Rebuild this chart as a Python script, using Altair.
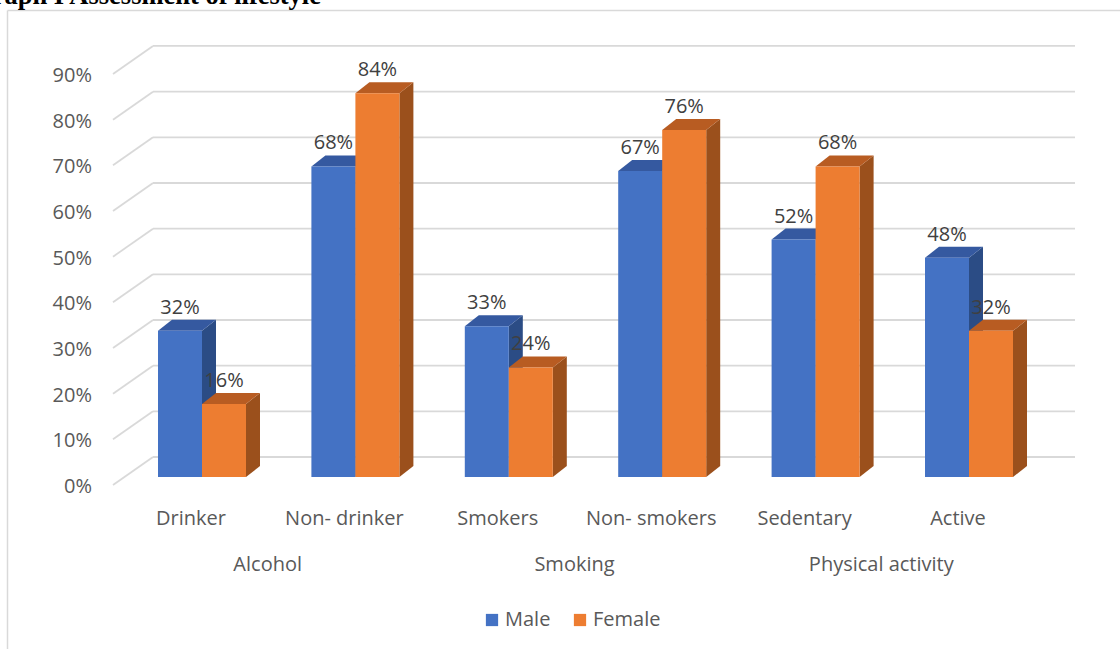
import altair as alt
import pandas as pd

# ---------------- data ----------------
categories = ["Drinker", "Non- drinker", "Smokers", "Non- smokers", "Sedentary", "Active"]
groups = ["Alcohol", "Smoking", "Physical activity"]
male = [32, 68, 33, 67, 52, 48]
female = [16, 84, 24, 76, 68, 32]
series = ["Male", "Female"]
ticks = [0, 10, 20, 30, 40, 50, 60, 70, 80, 90]
title_text = "Graph I Assessment of lifestyle"

# ---------------- layout (styles / geometry) ----------------
W, H = 1120, 649
ORIGIN_X = 202.0      # pixel of first category centre
PITCH = 153.4         # pixels per category
BASE_Y = 477.0        # pixel of 0 % in bar plane
PX_PER_PCT = 4.567

XMIN = -ORIGIN_X / PITCH
XMAX = (W - ORIGIN_X) / PITCH
YMIN = (BASE_Y - H) / PX_PER_PCT
YMAX = BASE_Y / PX_PER_PCT

BAR_W = 44 / PITCH
DX = 14 / PITCH
DY = 11 / PX_PER_PCT
BACK_DY = (BASE_Y - 457) / PX_PER_PCT
FRONT_DY = (BASE_Y - 485) / PX_PER_PCT
BACK_X0 = (153 - ORIGIN_X) / PITCH
BACK_X1 = (1075 - ORIGIN_X) / PITCH
FRONT_X0 = (113 - ORIGIN_X) / PITCH
CAT_DX = -11 / PITCH

FONT = "Open Sans"
FRONT_COL = {"Male": "#4472C4", "Female": "#ED7D31"}
TOP_COL = {"Male": "#3559A0", "Female": "#B85C22"}
SIDE_COL = {"Male": "#2B4C85", "Female": "#9B501C"}
GRID = "#D9D9D9"

xs = alt.Scale(domain=[XMIN, XMAX], nice=False, zero=False)
ys = alt.Scale(domain=[YMIN, YMAX], nice=False, zero=False)


def X(f):
    return alt.X(f, type="quantitative", scale=xs, axis=None)


def Y(f):
    return alt.Y(f, type="quantitative", scale=ys, axis=None)


# ---------------- tables ----------------
bars = []
for i, c in enumerate(categories):
    for s, vals in zip(series, [male, female]):
        xl = i - BAR_W if s == "Male" else i
        bars.append({"cat": c, "series": s, "xl": xl, "xr": xl + BAR_W,
                     "xc": xl + BAR_W / 2, "v": vals[i], "base": 0,
                     "label": f"{vals[i]}%"})
bars = pd.DataFrame(bars)

side_rows, top_rows = [], []
for _, r in bars.iterrows():
    fid = f"{r['cat']}-{r['series']}"
    side_rows += [
        {"id": fid, "series": r["series"], "x": r["xr"], "y": r["v"], "y2": 0},
        {"id": fid, "series": r["series"], "x": r["xr"] + DX, "y": r["v"] + DY, "y2": DY},
    ]
    top_rows += [
        {"id": fid, "series": r["series"], "y": r["v"], "x": r["xl"], "x2": r["xr"]},
        {"id": fid, "series": r["series"], "y": r["v"] + DY, "x": r["xl"] + DX, "x2": r["xr"] + DX},
    ]
side = pd.DataFrame(side_rows)
top = pd.DataFrame(top_rows)

grid = pd.DataFrame({
    "t": ticks,
    "label": [f"{t}%" for t in ticks],
    "yb": [t + BACK_DY for t in ticks],
    "yf": [t + FRONT_DY for t in ticks],
    "xf": FRONT_X0, "xb0": BACK_X0, "xb1": BACK_X1,
})

cats = pd.DataFrame({"cat": categories, "x": [i + CAT_DX for i in range(len(categories))]})
grps = pd.DataFrame({"grp": groups, "x": [2 * g + 0.5 + CAT_DX for g in range(len(groups))]})

# ---------------- layers ----------------
diag = alt.Chart(grid).mark_rule(color=GRID, strokeWidth=1.8).encode(
    x=X("xf"), x2="xb0", y=Y("yf"), y2="yb")
horiz = alt.Chart(grid).mark_rule(color=GRID, strokeWidth=1.8).encode(
    x=X("xb0"), x2="xb1", y=Y("yb"))
ylab = alt.Chart(grid).mark_text(align="right", baseline="middle", dy=2, font=FONT,
                                 fontSize=20, color="#595959").encode(
    x=alt.value(92), y=Y("yf"), text="label:N")

color_enc = alt.Color("series:N", scale=alt.Scale(domain=series, range=[FRONT_COL[s] for s in series]),
                      legend=alt.Legend(title=None, orient="none", legendX=482, legendY=610,
                                        direction="horizontal", symbolType="square", symbolSize=150,
                                        symbolStrokeWidth=0, labelFont=FONT, labelFontSize=20,
                                        labelColor="#595959", labelOffset=3, columnPadding=19))

bar_layers = []
for s in series:
    bar_layers.append(
        alt.Chart(side).transform_filter(alt.datum.series == s)
        .mark_area(orient="vertical", color=SIDE_COL[s], opacity=1)
        .encode(x=X("x"), y=Y("y"), y2="y2", detail="id:N"))
    bar_layers.append(
        alt.Chart(top).transform_filter(alt.datum.series == s)
        .mark_area(orient="horizontal", color=TOP_COL[s], opacity=1)
        .encode(y=Y("y"), x=X("x"), x2="x2", detail="id:N"))
    bar_layers.append(
        alt.Chart(bars).transform_filter(alt.datum.series == s)
        .mark_bar(opacity=1, strokeWidth=0)
        .encode(x=X("xl"), x2="xr", y=Y("base"), y2="v", color=color_enc))

vlab = alt.Chart(bars).mark_text(baseline="alphabetic", dy=-17, font=FONT, fontSize=20,
                                 color="#404040").encode(x=X("xc"), y=Y("v"), text="label:N")

catlab = alt.Chart(cats).mark_text(baseline="alphabetic", font=FONT, fontSize=20,
                                   color="#595959").encode(x=X("x"), y=alt.value(525), text="cat:N")
grplab = alt.Chart(grps).mark_text(baseline="alphabetic", font=FONT, fontSize=20,
                                   color="#595959").encode(x=X("x"), y=alt.value(571), text="grp:N")

frame_df = pd.DataFrame({"k": [0]})
frame_left = alt.Chart(frame_df).mark_rule(color=GRID, strokeWidth=1.5).encode(
    x=alt.value(7.5), y=alt.value(10.5), y2=alt.value(H))
frame_top = alt.Chart(frame_df).mark_rule(color=GRID, strokeWidth=1.5).encode(
    x=alt.value(7.5), x2=alt.value(W), y=alt.value(10.5))
title = alt.Chart(pd.DataFrame({"t": [title_text]})).mark_text(
    align="right", baseline="alphabetic", font="Liberation Serif", fontWeight="bold",
    fontSize=26.5, color="#000000").encode(x=alt.value(321), y=alt.value(4), text="t:N")

chart = alt.layer(frame_left, frame_top, title, diag, horiz, ylab, *bar_layers, vlab, catlab, grplab).properties(
    width=W, height=H, autosize=alt.AutoSizeParams(type="none"), padding=0, background="white"
).configure_view(stroke=None)

chart.save("out.html", embed_options={"renderer": "svg", "actions": False})
